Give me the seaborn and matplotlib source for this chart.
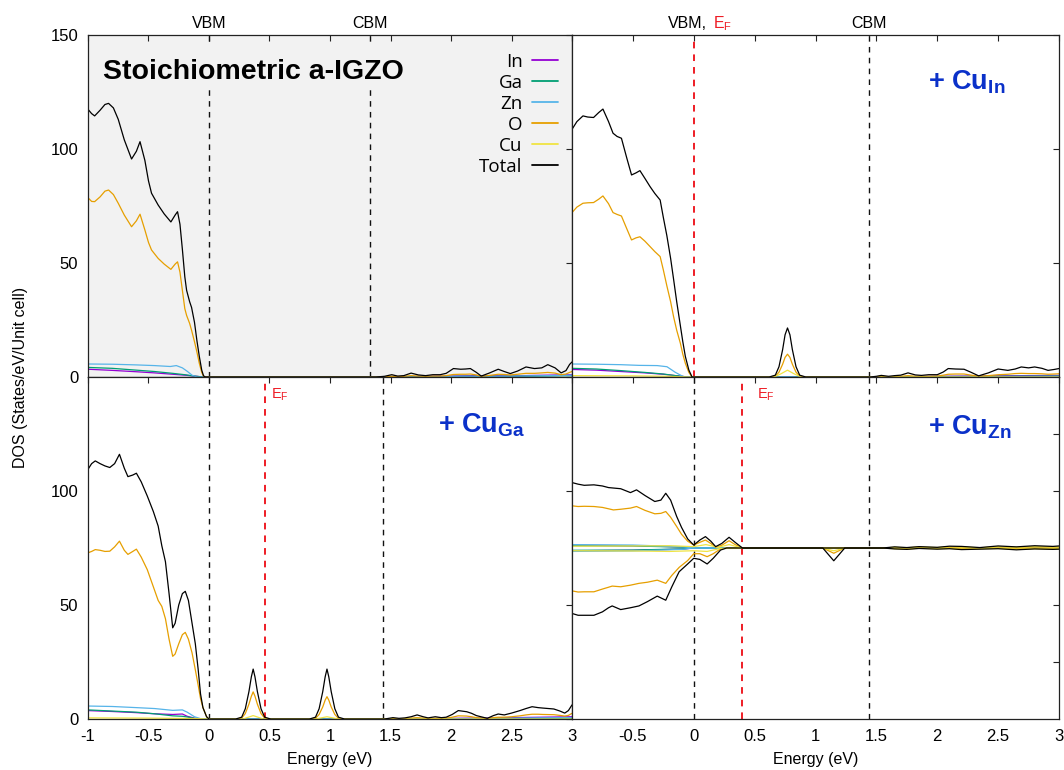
import matplotlib
matplotlib.use("Agg")
import matplotlib.pyplot as plt
from matplotlib.lines import Line2D
from matplotlib.patches import Rectangle
import pandas as pd
import seaborn as sns

# ---------------------------------------------------------------- species
SPECIES = ["In", "Ga", "Zn", "O", "Cu", "Total"]
COLORS = ["#9400d3", "#009e73", "#56b4e9", "#e69f00", "#f0e442", "#000000"]

XTICKS = [-1, -0.5, 0, 0.5, 1, 1.5, 2, 2.5, 3]
XTICKLABELS = ["-1", "-0.5", "0", "0.5", "1", "1.5", "2", "2.5", "3"]
YTICKS = [0, 50, 100, 150]
YTICKS_SPIN = [-50, -25, 0, 25, 50]

# band edges / Fermi levels (eV)
A_VBM, A_CBM = 0.0, 1.33
B_VBM, B_EF, B_CBM = 0.0, 0.0, 1.44
C_VBM, C_EF, C_CBM = 0.0, 0.46, 1.44
D_VBM, D_EF, D_CBM = 0.0, 0.40, 1.44

# ---------------------------------------------------------------- (a) stoichiometric a-IGZO
A_E_VB = [-1.0, -0.97, -0.945, -0.9, -0.86, -0.83, -0.79, -0.75, -0.7, -0.64, -0.6, -0.57,
          -0.53, -0.5, -0.475, -0.42, -0.37, -0.315, -0.28, -0.26, -0.24, -0.22, -0.2, -0.185,
          -0.16, -0.144, -0.12, -0.1, -0.08, -0.06, -0.045, -0.03]
A_TOTAL_VB = [117.4, 115.5, 114.5, 117.0, 119.5, 120.0, 118.0, 113.0, 104.0, 95.6, 99.0, 103.2,
              95.0, 86.0, 80.6, 75.4, 71.5, 68.0, 71.0, 72.5, 67.0, 56.0, 44.0, 38.0,
              33.0, 30.5, 24.0, 16.0, 9.0, 3.0, 0.5, 0.0]
A_O_VB = [78.6, 77.0, 76.9, 79.0, 81.5, 82.0, 80.0, 76.2, 71.0, 65.9, 68.5, 71.4,
          64.5, 59.0, 55.7, 52.0, 49.5, 47.2, 49.5, 50.5, 46.0, 38.0, 30.0, 27.0,
          23.5, 20.5, 15.5, 11.0, 6.0, 2.0, 0.3, 0.0]
A_E_CB = [1.38, 1.45, 1.51, 1.56, 1.61, 1.67, 1.73, 1.79, 1.85, 1.91, 1.96, 2.02, 2.08, 2.12,
          2.16, 2.21, 2.25, 2.32, 2.39, 2.44, 2.49, 2.55, 2.62, 2.69, 2.75, 2.8, 2.86, 2.91,
          2.95, 2.98, 3.0]
A_TOTAL_CB = [0.0, 0.3, 1.0, 0.4, 0.6, 1.7, 0.9, 0.6, 1.0, 1.0, 1.6, 3.7, 3.4, 3.5,
              3.7, 2.0, 0.4, 1.8, 3.4, 2.4, 1.5, 2.6, 4.4, 3.7, 4.0, 5.4, 4.0, 1.8,
              2.8, 5.5, 6.6]
A_O_CB = [0.0, 0.1, 0.3, 0.2, 0.3, 0.6, 0.4, 0.3, 0.4, 0.4, 0.6, 1.1, 1.2, 1.2,
          1.3, 0.9, 0.3, 0.7, 1.2, 1.1, 0.9, 1.2, 1.6, 1.6, 1.8, 2.0, 1.7, 1.0,
          1.3, 2.0, 2.4]
A_IN_E = [-1.0, -0.8, -0.6, -0.45, -0.3, -0.2, -0.12, -0.05, 1.45, 1.7, 2.0, 2.2, 2.5, 2.8, 3.0]
A_IN = [3.4, 2.9, 2.3, 1.8, 1.2, 0.8, 0.4, 0.0, 0.0, 0.2, 0.4, 0.6, 0.5, 0.8, 1.0]
A_GA_E = [-1.0, -0.8, -0.6, -0.45, -0.3, -0.2, -0.12, -0.05, 1.45, 1.8, 2.1, 2.4, 2.7, 3.0]
A_GA = [4.2, 3.8, 3.0, 2.4, 1.6, 1.0, 0.4, 0.0, 0.0, 0.1, 0.3, 0.3, 0.4, 0.6]
A_ZN_E = [-1.0, -0.8, -0.6, -0.45, -0.32, -0.27, -0.22, -0.18, -0.14, -0.1, 1.45, 1.8, 2.1,
          2.4, 2.7, 3.0]
A_ZN = [5.7, 5.6, 5.3, 5.0, 4.6, 5.0, 4.0, 2.5, 0.8, 0.0, 0.0, 0.1, 0.3, 0.3, 0.5, 0.8]

# ---------------------------------------------------------------- (b) + Cu_In
B_E_VB = [-1.0, -0.96, -0.91, -0.87, -0.823, -0.78, -0.746, -0.7, -0.663, -0.63, -0.594,
          -0.55, -0.511, -0.475, -0.442, -0.4, -0.359, -0.32, -0.276, -0.25, -0.221, -0.19,
          -0.166, -0.14, -0.11, -0.09, -0.069, -0.04, -0.014]
B_TOTAL_VB = [108.6, 112.0, 114.5, 114.0, 113.8, 116.0, 117.5, 112.0, 106.9, 105.5, 104.7,
              96.0, 88.6, 89.5, 90.5, 87.0, 83.5, 80.5, 77.6, 70.0, 62.0, 52.0,
              43.0, 33.0, 22.5, 15.5, 9.0, 3.0, 0.0]
B_O_VB = [72.1, 74.5, 76.2, 76.4, 76.5, 78.0, 79.4, 76.0, 72.1, 71.3, 70.6,
          65.0, 60.1, 61.0, 61.5, 59.5, 57.2, 55.0, 52.8, 47.0, 40.0, 33.0,
          26.5, 20.5, 14.8, 10.0, 6.0, 2.0, 0.0]
B_E_PK = [0.62, 0.67, 0.70, 0.73, 0.75, 0.77, 0.79, 0.81, 0.84, 0.87, 0.92]
B_TOTAL_PK = [0.0, 0.8, 4.5, 12.0, 18.5, 21.5, 18.5, 12.0, 4.5, 0.8, 0.0]
B_O_PK = [0.0, 0.4, 2.1, 5.6, 8.6, 10.0, 8.6, 5.6, 2.1, 0.4, 0.0]
B_E_CB = [1.45, 1.5, 1.54, 1.6, 1.65, 1.7, 1.76, 1.82, 1.87, 1.93, 2.0, 2.05, 2.09, 2.15,
          2.22, 2.28, 2.34, 2.42, 2.5, 2.58, 2.64, 2.69, 2.75, 2.8, 2.86, 2.91, 2.96, 3.0]
B_TOTAL_CB = [0.0, 0.3, 0.7, 0.3, 0.6, 0.8, 1.8, 0.9, 0.7, 1.0, 1.0, 2.2, 3.7, 3.5,
              3.4, 2.0, 0.5, 1.8, 3.5, 2.9, 3.5, 4.4, 4.0, 4.4, 3.8, 2.9, 3.3, 3.7]
B_O_CB = [0.0, 0.1, 0.3, 0.1, 0.2, 0.3, 0.6, 0.3, 0.3, 0.3, 0.4, 0.8, 1.2, 1.3,
          1.3, 0.8, 0.3, 0.6, 1.0, 1.2, 1.5, 1.6, 1.5, 1.5, 1.4, 1.2, 1.3, 1.4]
B_IN_E = [-1.0, -0.8, -0.6, -0.4, -0.25, -0.15, -0.05, 1.5, 2.0, 2.5, 3.0]
B_IN = [3.3, 3.0, 2.4, 1.8, 1.2, 0.6, 0.0, 0.0, 0.3, 0.5, 0.7]
B_GA_E = [-1.0, -0.8, -0.6, -0.4, -0.25, -0.15, -0.05, 1.5, 2.0, 2.5, 3.0]
B_GA = [3.8, 3.5, 2.8, 2.0, 1.3, 0.6, 0.0, 0.0, 0.2, 0.3, 0.4]
B_ZN_E = [-1.0, -0.8, -0.6, -0.45, -0.3, -0.22, -0.15, -0.08, 1.5, 2.0, 2.5, 3.0]
B_ZN = [5.7, 5.6, 5.4, 5.1, 5.0, 4.5, 2.0, 0.0, 0.0, 0.1, 0.2, 0.3]
B_CU_E = [-1.0, -0.5, -0.2, -0.05, 0.66, 0.72, 0.77, 0.82, 0.88, 3.0]
B_CU = [0.6, 0.5, 0.3, 0.0, 0.0, 1.5, 3.0, 1.5, 0.0, 0.0]

# ---------------------------------------------------------------- (c) + Cu_Ga
C_E_VB = [-1.0, -0.97, -0.94, -0.9, -0.86, -0.82, -0.78, -0.74, -0.7, -0.67, -0.63, -0.6,
          -0.56, -0.51, -0.46, -0.42, -0.39, -0.36, -0.33, -0.3, -0.28, -0.25, -0.22, -0.196,
          -0.17, -0.14, -0.113, -0.09, -0.07, -0.05, -0.02, 0.0]
C_TOTAL_VB = [109.5, 112.0, 113.2, 112.0, 111.0, 110.3, 112.0, 116.1, 110.0, 106.3, 107.0, 107.8,
              104.0, 97.8, 91.0, 84.6, 76.0, 69.0, 55.0, 40.0, 42.0, 50.0, 55.0, 56.0,
              52.0, 42.0, 33.0, 22.0, 11.0, 5.0, 1.0, 0.0]
C_O_VB = [72.9, 73.5, 74.3, 74.0, 73.5, 73.6, 75.5, 78.0, 74.0, 72.2, 73.5, 74.5,
          71.0, 65.5, 58.0, 52.0, 49.4, 44.0, 35.0, 27.5, 28.5, 33.0, 37.0, 38.0,
          35.0, 29.0, 21.6, 15.0, 9.0, 5.0, 1.0, 0.0]
C_E_PK1 = [0.22, 0.27, 0.3, 0.33, 0.35, 0.365, 0.38, 0.40, 0.43, 0.46, 0.51]
C_TOTAL_PK1 = [0.0, 0.8, 4.5, 12.0, 18.5, 21.9, 18.5, 12.0, 4.5, 0.8, 0.0]
C_O_PK1 = [0.0, 0.4, 2.4, 6.5, 10.0, 11.9, 10.0, 6.5, 2.4, 0.4, 0.0]
C_E_PK2 = [0.83, 0.88, 0.91, 0.94, 0.96, 0.975, 0.99, 1.01, 1.04, 1.07, 1.12]
C_TOTAL_PK2 = [0.0, 0.8, 4.5, 12.0, 18.5, 21.9, 18.5, 12.0, 4.5, 0.8, 0.0]
C_O_PK2 = [0.0, 0.3, 2.0, 5.3, 8.3, 9.8, 8.3, 5.3, 2.0, 0.3, 0.0]
C_E_CB = [1.45, 1.52, 1.57, 1.62, 1.67, 1.72, 1.77, 1.81, 1.87, 1.92, 1.96, 2.01, 2.06, 2.13,
          2.17, 2.21, 2.3, 2.35, 2.39, 2.44, 2.5, 2.57, 2.62, 2.67, 2.72, 2.76, 2.85, 2.9,
          2.94, 2.97, 3.0]
C_TOTAL_CB = [0.0, 0.6, 0.3, 0.5, 1.0, 1.8, 1.0, 0.5, 1.0, 0.6, 0.8, 2.0, 3.7, 3.2,
              2.5, 1.5, 0.3, 1.5, 2.2, 1.8, 2.6, 3.7, 4.6, 5.4, 5.0, 4.8, 4.4, 3.5,
              2.6, 3.7, 6.2]
C_O_CB = [0.0, 0.2, 0.1, 0.2, 0.4, 0.6, 0.4, 0.2, 0.3, 0.3, 0.4, 0.8, 1.4, 1.3,
          1.0, 0.6, 0.2, 0.6, 0.8, 0.8, 1.0, 1.4, 1.8, 2.1, 2.1, 2.0, 1.9, 1.6,
          1.3, 1.6, 2.5]
C_SMALL_E = [-1.0, -0.8, -0.6, -0.45, -0.3, -0.22, -0.18, -0.12, -0.06, 1.5, 2.0, 2.5, 3.0]
C_ZN = [5.7, 5.5, 5.0, 4.6, 3.8, 4.0, 3.0, 1.0, 0.0, 0.0, 0.2, 0.4, 0.6]
C_GA = [4.0, 3.5, 3.0, 2.3, 1.4, 1.2, 0.9, 0.3, 0.0, 0.0, 0.1, 0.2, 0.3]
C_IN = [3.7, 3.3, 2.8, 2.3, 2.0, 2.2, 1.2, 0.4, 0.0, 0.0, 0.3, 0.6, 1.0]
C_CU_E = [-1.0, -0.5, -0.1, 0.0, 0.28, 0.365, 0.45, 0.88, 0.975, 1.07, 3.0]
C_CU = [0.5, 0.4, 0.2, 0.0, 0.0, 1.5, 0.0, 0.0, 1.0, 0.0, 0.0]

# ---------------------------------------------------------------- (d) + Cu_Zn (spin up / spin down)
D_E_UP = [-1.0, -0.95, -0.9, -0.82, -0.75, -0.7, -0.66, -0.6, -0.52, -0.47, -0.4, -0.32, -0.27,
          -0.23, -0.19, -0.14, -0.1, -0.05, 0.0, 0.05, 0.096, 0.14, 0.18, 0.23, 0.29, 0.34, 0.4]
D_TOTAL_UP = [28.7, 28.0, 27.5, 27.7, 27.2, 26.5, 26.3, 26.0, 24.3, 25.5, 23.0, 20.4, 21.0,
              24.0, 21.0, 13.8, 9.0, 4.0, 1.3, 3.5, 5.0, 3.0, 0.6, 2.0, 4.7, 2.5, 0.0]
D_O_UP = [18.5, 18.2, 18.3, 18.2, 17.8, 17.2, 16.7, 17.0, 17.5, 18.2, 16.5, 15.0, 15.2,
          16.0, 13.5, 9.4, 6.0, 3.0, 1.3, 2.5, 3.5, 2.0, 0.3, 1.2, 3.2, 1.5, 0.0]
D_E_DN = [-1.0, -0.95, -0.9, -0.82, -0.75, -0.7, -0.67, -0.6, -0.52, -0.45, -0.38, -0.3, -0.23,
          -0.18, -0.12, -0.05, 0.0, 0.05, 0.11, 0.16, 0.22, 0.27]
D_TOTAL_DN = [-28.7, -29.5, -29.5, -29.5, -28.0, -26.2, -25.4, -27.0, -26.2, -25.4, -23.5, -21.1,
              -22.9, -17.0, -10.4, -7.0, -4.5, -5.0, -7.0, -4.5, -0.9, 0.0]
D_O_DN = [-18.8, -19.3, -19.2, -19.2, -18.0, -17.2, -16.7, -17.0, -16.3, -15.5, -15.0, -14.1,
          -15.5, -12.0, -8.5, -5.5, -2.5, -2.5, -3.8, -2.5, -0.4, 0.0]
D_E_PK = [1.06, 1.1, 1.15, 1.2, 1.24]
D_TOTAL_PK = [0.0, -2.5, -5.6, -2.5, 0.0]
D_O_PK = [0.0, -1.0, -2.3, -1.0, 0.0]
D_CU_PK = [0.0, -0.6, -1.2, -0.6, 0.0]
D_E_CB = [1.55, 1.65, 1.75, 1.85, 2.0, 2.1, 2.2, 2.35, 2.5, 2.65, 2.8, 2.95, 3.0]
D_TOTAL_CB_UP = [0.0, 0.5, 0.2, 0.6, 0.3, 0.8, 0.7, 0.2, 0.9, 0.5, 1.0, 0.7, 0.9]
D_TOTAL_CB_DN = [0.0, -0.4, -0.6, -0.2, -0.5, -0.3, -0.7, -0.5, -0.3, -0.8, -0.4, -0.6, -0.5]
D_O_CB_UP = [0.0, 0.2, 0.1, 0.3, 0.1, 0.3, 0.3, 0.1, 0.4, 0.2, 0.4, 0.3, 0.4]
D_O_CB_DN = [0.0, -0.2, -0.3, -0.1, -0.2, -0.1, -0.3, -0.2, -0.1, -0.3, -0.2, -0.3, -0.2]
D_CU_CB_UP = [0.0, 0.3, 0.1, 0.4, 0.2, 0.5, 0.4, 0.1, 0.5, 0.3, 0.6, 0.4, 0.5]
D_CU_CB_DN = [0.0, -0.3, -0.4, -0.1, -0.3, -0.2, -0.5, -0.3, -0.2, -0.5, -0.3, -0.4, -0.3]
D_SMALL_E = [-1.0, -0.5, -0.1, 0.0, 3.0]
D_IN_UP = [1.2, 1.0, 0.5, 0.0, 0.0]
D_IN_DN = [-1.2, -1.0, -0.5, 0.0, 0.0]
D_GA_UP = [1.0, 0.9, 0.4, 0.0, 0.0]
D_GA_DN = [-1.0, -0.9, -0.4, 0.0, 0.0]
D_ZN_UP = [1.5, 1.3, 0.6, 0.0, 0.0]
D_ZN_DN = [-1.5, -1.3, -0.6, 0.0, 0.0]
D_CU_E_UP = [-1.0, -0.5, -0.2, 0.0, 0.1, 0.2, 0.29, 0.4]
D_CU_UP = [0.8, 0.9, 1.0, 0.6, 1.5, 0.3, 1.5, 0.0]
D_CU_E_DN = [-1.0, -0.5, -0.2, 0.0, 0.11, 0.22]
D_CU_DN = [-1.2, -1.3, -1.5, -1.2, -1.5, -0.2]

# ---------------------------------------------------------------- style
sns.set_theme(style="white")
plt.rcParams["font.family"] = ["Liberation Sans", "DejaVu Sans"]
plt.rcParams["mathtext.fontset"] = "custom"
plt.rcParams["mathtext.rm"] = "Liberation Sans"
plt.rcParams["mathtext.bf"] = "Liberation Sans:bold"
plt.rcParams["mathtext.it"] = "Liberation Sans:italic"
plt.rcParams["text.color"] = "black"
plt.rcParams["axes.labelcolor"] = "black"

PALETTE = dict(zip(SPECIES, COLORS))
RED = "#ee1c25"
BLUE = "#0b31c9"
PANEL_BG = "#f2f2f2"
TICK_FS = 12
LABEL_FS = 11.5

fig = plt.figure(figsize=(10.64, 7.70), dpi=100)
axA = fig.add_axes([0.0827, 0.5104, 0.4549, 0.4442])
axB = fig.add_axes([0.5376, 0.5104, 0.4577, 0.4442])
axC = fig.add_axes([0.0827, 0.0662, 0.4549, 0.4442])
axD = fig.add_axes([0.5376, 0.0662, 0.4577, 0.4442])


def draw_panel(ax, traces):
    rows = []
    for species, spin, energies, values in traces:
        for e, v in zip(energies, values):
            rows.append((species, f"{species}-{spin}", e, v))
    df = pd.DataFrame(rows, columns=["species", "trace", "energy", "dos"])
    present = [s for s in SPECIES if s in set(df["species"])]
    sns.lineplot(data=df, x="energy", y="dos", hue="species", hue_order=present,
                 palette=PALETTE, units="trace", estimator=None, sort=False,
                 legend=False, lw=0.9, ax=ax)
    ax.set_xlabel("")
    ax.set_ylabel("")
    ax.set_xlim(-1, 3)
    ax.set_xticks(XTICKS)
    ax.tick_params(direction="in", top=True, right=True, length=4.5, width=0.8,
                   labelsize=TICK_FS, pad=7, color="#222222", labelcolor="black")
    for sp in ax.spines.values():
        sp.set_color("#222222")
        sp.set_linewidth(0.9)


def vline(ax, x, red=False):
    if red:
        ax.axvline(x, color=RED, lw=1.4, dashes=(3.4, 3.1), zorder=1)
    else:
        ax.axvline(x, color="#111111", lw=1.0, dashes=(4.0, 3.8), zorder=1)


# (a) stoichiometric
draw_panel(axA, [
    ("In", "up", A_IN_E, A_IN),
    ("Ga", "up", A_GA_E, A_GA),
    ("Zn", "up", A_ZN_E, A_ZN),
    ("O", "up", A_E_VB + A_E_CB, A_O_VB + A_O_CB),
    ("Total", "up", A_E_VB + A_E_CB, A_TOTAL_VB + A_TOTAL_CB),
])
axA.set_facecolor(PANEL_BG)
axA.set_ylim(0, 150)
axA.set_yticks(YTICKS)
axA.set_yticklabels(["0", "50", "100", "150"])
axA.tick_params(labelbottom=False)
vline(axA, A_VBM)
vline(axA, A_CBM)
# backing box behind the panel title
axA.add_patch(Rectangle((0.02, 0.845), 0.66, 0.132, transform=axA.transAxes,
                        facecolor=PANEL_BG, edgecolor="none", zorder=2.2))
axA.text(0.032, 0.8705, "Stoichiometric a-IGZO", transform=axA.transAxes,
         fontsize=20.5, fontweight="bold", ha="left", va="baseline", zorder=4)
handles = [Line2D([], [], color=c, lw=1.3) for c in COLORS]
leg = axA.legend(handles, SPECIES, loc="upper right", bbox_to_anchor=(0.9717, 0.948),
                 frameon=False, markerfirst=False, handlelength=1.4, handletextpad=0.5,
                 labelspacing=0.16, borderpad=0, borderaxespad=0,
                 prop={"family": "Open Sans", "size": 13.5})
leg.set_zorder(5)
top_tr = axA.get_xaxis_transform()
axA.text(A_VBM, 1.0205, "VBM", transform=top_tr, ha="center", va="baseline", fontsize=LABEL_FS)
axA.text(A_CBM, 1.0205, "CBM", transform=top_tr, ha="center", va="baseline", fontsize=LABEL_FS)

# (b) + Cu_In
draw_panel(axB, [
    ("In", "up", B_IN_E, B_IN),
    ("Ga", "up", B_GA_E, B_GA),
    ("Zn", "up", B_ZN_E, B_ZN),
    ("O", "up", B_E_VB + B_E_PK + B_E_CB, B_O_VB + B_O_PK + B_O_CB),
    ("Cu", "up", B_CU_E, B_CU),
    ("Total", "up", B_E_VB + B_E_PK + B_E_CB, B_TOTAL_VB + B_TOTAL_PK + B_TOTAL_CB),
])
axB.set_ylim(0, 150)
axB.set_yticks(YTICKS)
axB.tick_params(labelbottom=False, labelleft=False)
vline(axB, B_EF, red=True)
vline(axB, B_CBM)
top_tr = axB.get_xaxis_transform()
axB.text(0.109, 1.0205, "VBM,", transform=top_tr, ha="right", va="baseline", fontsize=LABEL_FS)
axB.text(0.154, 1.0205, r"E$_{\mathrm{F}}$", transform=top_tr, ha="left", va="baseline",
         fontsize=LABEL_FS, color=RED)
axB.text(B_CBM, 1.0205, "CBM", transform=top_tr, ha="center", va="baseline", fontsize=LABEL_FS)
axB.text(0.731, 0.841, r"+ Cu$_{\mathbf{In}}$", transform=axB.transAxes, ha="left",
         va="baseline", fontsize=19.5, fontweight="bold", color=BLUE)

# (c) + Cu_Ga
draw_panel(axC, [
    ("In", "up", C_SMALL_E, C_IN),
    ("Ga", "up", C_SMALL_E, C_GA),
    ("Zn", "up", C_SMALL_E, C_ZN),
    ("O", "up", C_E_VB + C_E_PK1 + C_E_PK2 + C_E_CB, C_O_VB + C_O_PK1 + C_O_PK2 + C_O_CB),
    ("Cu", "up", C_CU_E, C_CU),
    ("Total", "up", C_E_VB + C_E_PK1 + C_E_PK2 + C_E_CB,
     C_TOTAL_VB + C_TOTAL_PK1 + C_TOTAL_PK2 + C_TOTAL_CB),
])
axC.set_ylim(0, 150)
axC.set_yticks(YTICKS)
axC.set_yticklabels(["0", "50", "100", ""])
axC.set_xticklabels(XTICKLABELS)
axC.set_xlabel("Energy (eV)", fontsize=LABEL_FS, labelpad=6)
vline(axC, C_VBM)
vline(axC, C_EF, red=True)
vline(axC, C_CBM)
axC.text(0.512, 0.9357, r"E$_{\mathrm{F}}$", transform=axC.get_xaxis_transform(),
         ha="left", va="baseline", fontsize=10.5, color=RED)
axC.text(0.7227, 0.837, r"+ Cu$_{\mathbf{Ga}}$", transform=axC.transAxes, ha="left",
         va="baseline", fontsize=19.5, fontweight="bold", color=BLUE)

# (d) + Cu_Zn, spin polarised
draw_panel(axD, [
    ("In", "up", D_SMALL_E, D_IN_UP),
    ("In", "dn", D_SMALL_E, D_IN_DN),
    ("Ga", "up", D_SMALL_E, D_GA_UP),
    ("Ga", "dn", D_SMALL_E, D_GA_DN),
    ("Zn", "up", D_SMALL_E, D_ZN_UP),
    ("Zn", "dn", D_SMALL_E, D_ZN_DN),
    ("O", "up", D_E_UP + D_E_CB, D_O_UP + D_O_CB_UP),
    ("O", "dn", D_E_DN + D_E_PK + D_E_CB, D_O_DN + D_O_PK + D_O_CB_DN),
    ("Cu", "up", D_CU_E_UP + D_E_CB, D_CU_UP + D_CU_CB_UP),
    ("Cu", "dn", D_CU_E_DN + D_E_PK + D_E_CB, D_CU_DN + D_CU_PK + D_CU_CB_DN),
    ("Total", "up", D_E_UP + D_E_CB, D_TOTAL_UP + D_TOTAL_CB_UP),
    ("Total", "dn", D_E_DN + D_E_PK + D_E_CB, D_TOTAL_DN + D_TOTAL_PK + D_TOTAL_CB_DN),
])
axD.set_ylim(-75, 75)
axD.set_yticks(YTICKS_SPIN)
axD.tick_params(labelleft=False)
axD.set_xticklabels([""] + XTICKLABELS[1:])
axD.set_xlabel("Energy (eV)", fontsize=LABEL_FS, labelpad=6)
vline(axD, D_VBM)
vline(axD, D_EF, red=True)
vline(axD, D_CBM)
axD.text(0.52, 0.9357, r"E$_{\mathrm{F}}$", transform=axD.get_xaxis_transform(),
         ha="left", va="baseline", fontsize=10.5, color=RED)
axD.text(0.731, 0.8325, r"+ Cu$_{\mathbf{Zn}}$", transform=axD.transAxes, ha="left",
         va="baseline", fontsize=19.5, fontweight="bold", color=BLUE)

fig.text(0.0188, 1 - 377 / 770, "DOS (States/eV/Unit cell)", rotation=90,
         ha="center", va="center", fontsize=LABEL_FS)

fig.savefig("out.png", dpi=100)
